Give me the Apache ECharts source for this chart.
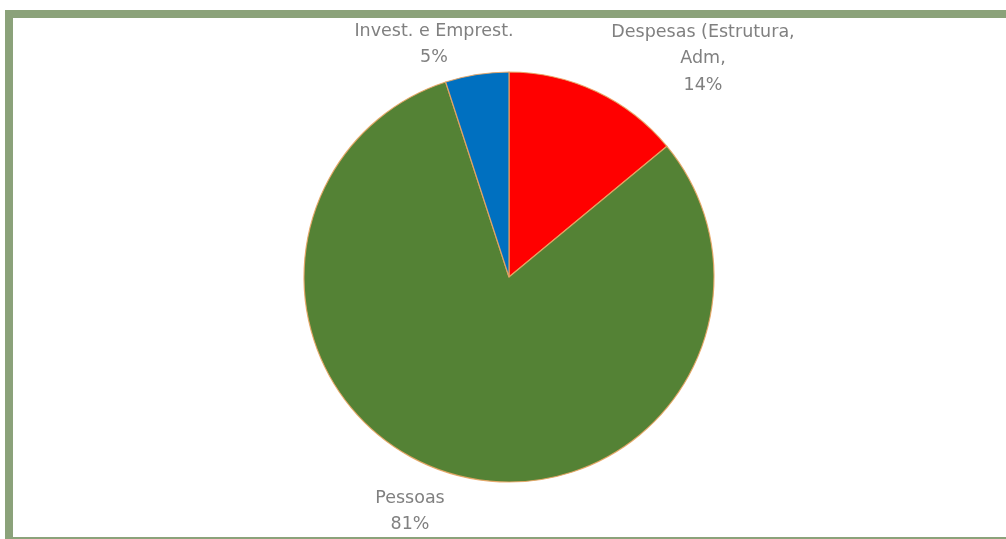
<!DOCTYPE html>
<html>
<head>
<meta charset="utf-8">
<script src="https://cdn.jsdelivr.net/npm/echarts@6/dist/echarts.min.js"></script>
<style>
html,body{margin:0;padding:0;background:#fff;}
#wrap{position:relative;width:1006px;height:539px;overflow:hidden;background:#fff;}
#chart{position:absolute;left:0;top:0;width:1006px;height:539px;}
.b{position:absolute;background:#8ba27a;}
</style>
</head>
<body>
<div id="wrap">
<div id="chart"></div>
<div class="b" style="left:5px;top:10px;width:1001px;height:8px;"></div>
<div class="b" style="left:5px;top:10px;width:8px;height:529px;"></div>
<div class="b" style="left:5px;top:537px;width:1001px;height:2px;"></div>
</div>
<script>
var categories = ['Despesas (Estrutura,\nAdm,', 'Pessoas', 'Invest. e Emprest.'];
var values = [14, 81, 5];
var colors = ['#ff0000', '#548235', '#0070c0'];
var labelPos = [[703, 19], [410, 485], [434, 18]];

var chart = echarts.init(document.getElementById('chart'), null, {renderer: 'canvas'});
chart.setOption({
  animation: false,
  backgroundColor: 'transparent',
  series: [{
    type: 'pie',
    center: [509, 277],
    radius: 205,
    startAngle: 90,
    clockwise: true,
    data: categories.map(function (c, i) {
      return {name: c, value: values[i], itemStyle: {color: colors[i]}};
    }),
    itemStyle: {borderColor: 'rgba(232,165,100,0.9)', borderWidth: 1.2},
    label: {
      show: true,
      formatter: function (p) { return p.name + '\n' + p.value + '%'; },
      color: '#808080',
      fontFamily: 'DejaVu Sans',
      fontSize: 17.5,
      lineHeight: 26.5,
      align: 'center'
    },
    labelLine: {show: false},
    labelLayout: function (params) {
      var pos = labelPos[params.dataIndex];
      return {x: pos[0], y: pos[1], align: 'center', verticalAlign: 'top'};
    },
    emphasis: {disabled: true}
  }]
});
</script>
</body>
</html>
